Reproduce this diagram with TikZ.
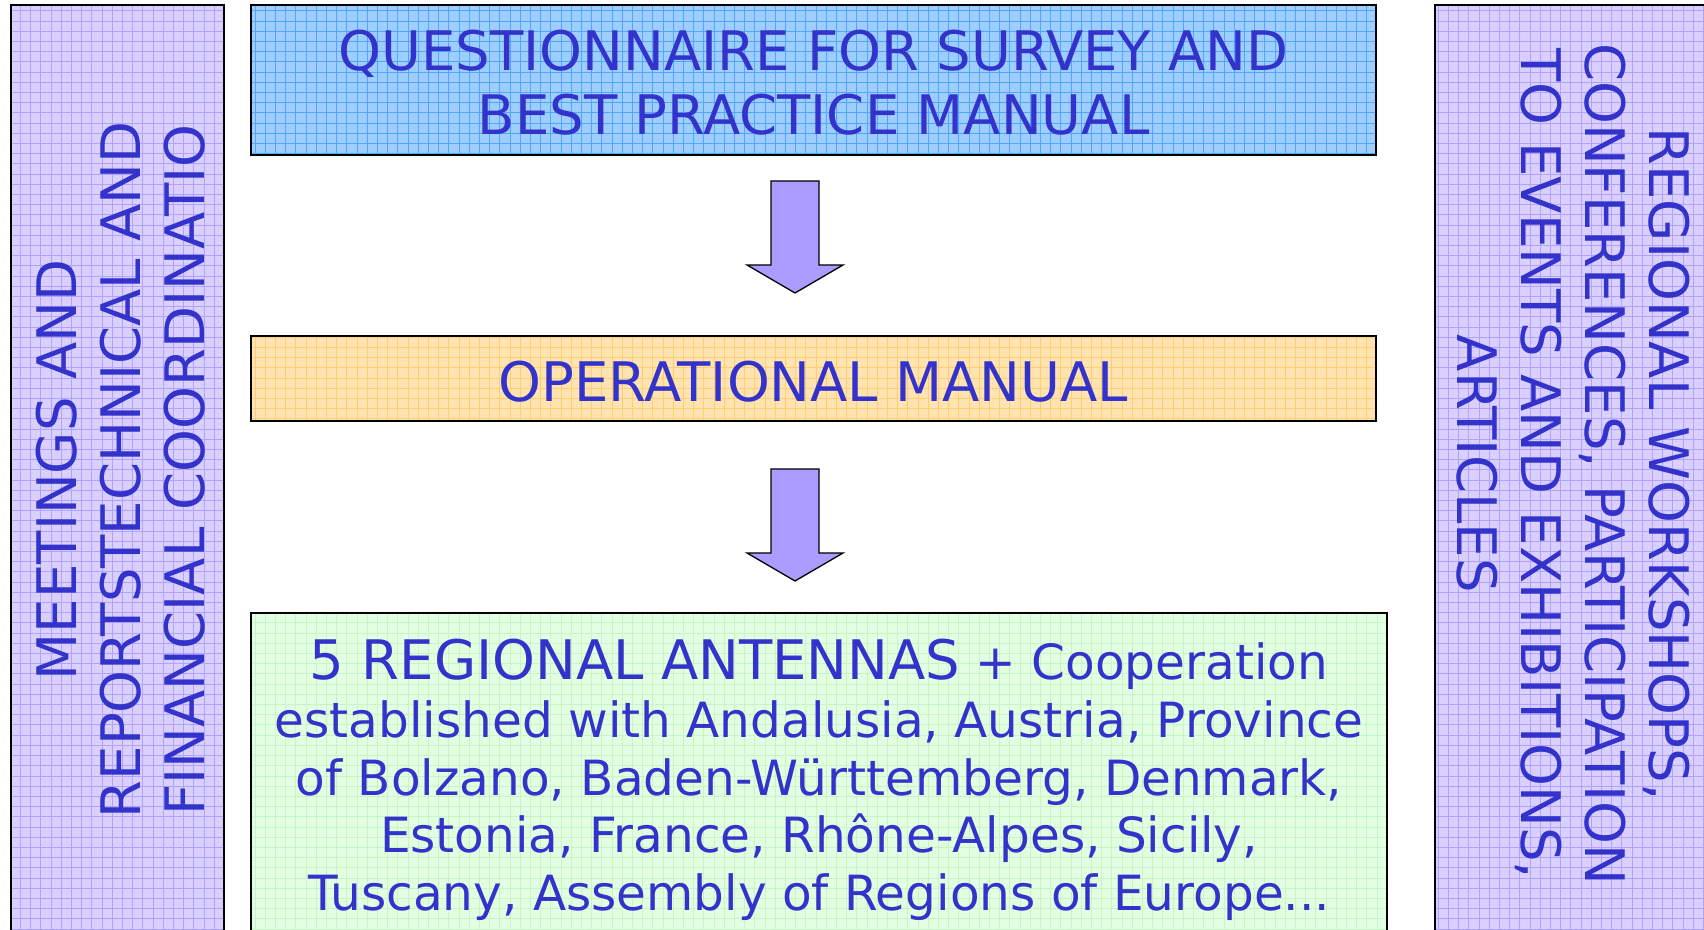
\documentclass[tikz,border=0pt]{standalone}
\usepackage{fontspec}
\setmainfont{DejaVu Sans}
\usetikzlibrary{calc}
\definecolor{txtblue}{RGB}{51,51,204}
\definecolor{lilacfill}{RGB}{218,208,255}
\definecolor{lilacgrid}{RGB}{178,162,255}
\definecolor{bluefill}{RGB}{158,206,255}
\definecolor{bluegrid}{RGB}{80,165,255}
\definecolor{orangefill}{RGB}{255,228,178}
\definecolor{orangegrid}{RGB}{255,206,112}
\definecolor{greenfill}{RGB}{226,255,226}
\definecolor{greengrid}{RGB}{198,246,198}
\definecolor{arrowfill}{RGB}{172,156,255}
\tikzset{
  boxshape/.style={draw=none, inner sep=0pt, outer sep=0pt},
  boxborder/.style={draw=black, line width=2pt},
  gridlines/.style={line width=1pt},
  bigtext/.style={text=txtblue, inner sep=0pt, align=center, font=\fontsize{54.5}{64}\selectfont},
  blockarrow/.style={draw=black, line width=1.3pt, fill=arrowfill, line join=miter},
}
\newcommand{\gridbox}[3]{% name, fill, grid colour
  \fill[#2] (#1.south west) rectangle (#1.north east);
  \begin{scope}
    \clip (#1.south west) rectangle (#1.north east);
    \draw[gridlines, #3, step=10.2pt] ($(#1.south west)+(-40,-40)$) grid ($(#1.north east)+(40,40)$);
  \end{scope}
  \draw[boxborder] (#1.south west) rectangle (#1.north east);
}
\begin{document}
\begin{tikzpicture}[x=1pt,y=1pt]
\useasboundingbox (0,0) rectangle (1704,929);
\clip (0,0) rectangle (1704,929);
\fill[white] (0,0) rectangle (1704,929);

% boxes
\node[boxshape, minimum width=213pt, minimum height=944pt] (left) at (117.5,452) {};
\node[boxshape, minimum width=295pt, minimum height=944pt] (right) at (1582.5,452) {};
\node[boxshape, minimum width=1125pt, minimum height=150pt] (blue) at (813.5,849) {};
\node[boxshape, minimum width=1125pt, minimum height=85pt] (orange) at (813.5,550.5) {};
\node[boxshape, minimum width=1136pt, minimum height=336pt] (green) at (819,148) {};

\gridbox{left}{lilacfill}{lilacgrid}
\gridbox{right}{lilacfill}{lilacgrid}
\gridbox{blue}{bluefill}{bluegrid}
\gridbox{orange}{orangefill}{orangegrid}
\gridbox{green}{greenfill}{greengrid}

% texts
\node[bigtext] (qtext) at (813.5,846) {QUESTIONNAIRE FOR SURVEY AND\\BEST PRACTICE MANUAL};
\node[bigtext, anchor=base] (otext) at (813.5,527) {OPERATIONAL MANUAL};
\node[bigtext, rotate=90] (ltext) at (121,459) {MEETINGS AND\\REPORTSTECHNICAL AND\\FINANCIAL COORDINATIO};
\node[bigtext, rotate=-90] (rtext) at (1573,465) {REGIONAL WORKSHOPS,\\CONFERENCES, PARTICIPATION\\TO EVENTS AND EXHIBITIONS,\\ARTICLES};
\node[bigtext, font=\fontsize{48.5}{57.6}\selectfont] (gtext) at (819,149)
  {{\fontsize{54.5}{57.6}\selectfont 5 REGIONAL ANTENNAS}\ + Cooperation\\
   established with Andalusia, Austria, Province\\
   of Bolzano, Baden-Württemberg, Denmark,\\
   Estonia, France, Rhône-Alpes, Sicily,\\
   Tuscany, Assembly of Regions of Europe...};

% block arrows
\coordinate (a1top) at ($(blue.south)+(-18.5,-26)$);
\coordinate (a1tip) at ($(orange.north)+(-18.5,43)$);
\draw[blockarrow] ($(a1top)+(-24,0)$) -- ($(a1top)+(24,0)$) -- ($(a1tip)+(24,28)$) -- ($(a1tip)+(48,28)$) -- (a1tip) -- ($(a1tip)+(-48,28)$) -- ($(a1tip)+(-24,28)$) -- cycle;
\coordinate (a2top) at ($(orange.south)+(-18.5,-48)$);
\coordinate (a2tip) at ($(green.north)+(-24,32)$);
\draw[blockarrow] ($(a2top)+(-24,0)$) -- ($(a2top)+(24,0)$) -- ($(a2top |- a2tip)+(24,28)$) -- ($(a2top |- a2tip)+(48,28)$) -- (a2top |- a2tip) -- ($(a2top |- a2tip)+(-48,28)$) -- ($(a2top |- a2tip)+(-24,28)$) -- cycle;
\end{tikzpicture}
\end{document}
